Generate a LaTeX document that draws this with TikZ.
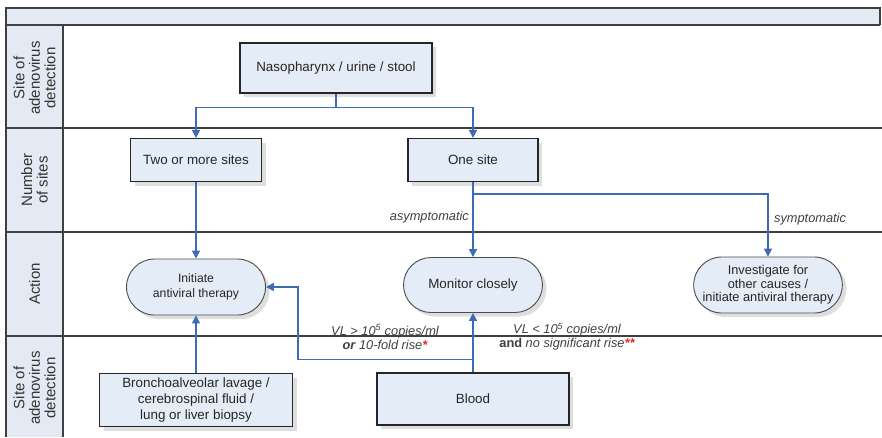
\documentclass[tikz,border=0pt]{standalone}
\usepackage{fontspec}
\setmainfont{Liberation Sans}
\usetikzlibrary{arrows.meta, positioning, shapes.misc, shadows}

\definecolor{boxfill}{HTML}{E4ECF7}
\definecolor{lanefill}{HTML}{E4EAF3}
\definecolor{flowblue}{HTML}{3B6CB4}
\definecolor{starred}{HTML}{E02828}

\begin{document}
\begin{tikzpicture}[
    x=1pt, y=-1pt,
    font=\fontsize{13.4}{15}\selectfont,
    site/.style={draw=black!85, line width=1.2pt, fill=boxfill, align=center, text=black!85,
        drop shadow={shadow xshift=4pt, shadow yshift=-4pt, fill=black!13, draw=none, opacity=1}},
    act/.style={draw=black!70, line width=0.9pt, fill=boxfill, rounded rectangle, align=center, text=black!85,
        minimum width=141pt, minimum height=56pt, inner xsep=1pt,
        drop shadow={shadow xshift=4pt, shadow yshift=-4pt, fill=black!13, draw=none, opacity=1}},
    wire/.style={flowblue, line width=1.6pt, -{Triangle[length=8pt, width=8pt]}},
    lane/.style={draw=black!75, line width=1.4pt},
    lanelbl/.style={rotate=90, align=center, font=\fontsize{15}{15.5}\selectfont, text=black!80},
    note/.style={font=\fontsize{12.8}{14}\selectfont\itshape, text=black!75, align=center}
]
\useasboundingbox (0,0) rectangle (882,437);

% swimlane frame
\fill[lanefill] (6,8) rectangle (880,25);
\fill[lanefill] (6,25) rectangle (63,437);
\draw[lane] (6,437) -- (6,8) -- (880,8) -- (880,25);
\draw[lane] (6,25) -- (880,25);
\draw[lane] (6,128) -- (882,128);
\draw[lane] (6,232) -- (882,232);
\draw[lane] (6,336) -- (882,336);
\draw[lane] (63,25) -- (63,437);

\node[lanelbl] (lanesite) at (34.5,78) {Site of\\adenovirus\\detection};
\node[lanelbl] (lanenum) at (34.5,180) {Number\\of sites};
\node[lanelbl] (laneact) at (34.5,284) {Action};
\node[lanelbl] (lanesample) at (34.5,388) {Site of\\adenovirus\\detection};

% nodes
\node[site, minimum width=192pt, minimum height=50pt] (naso) at (336,68) {Nasopharynx / urine / stool};
\node[site, minimum width=131pt, minimum height=43pt] (multi) at (196,160) {Two or more sites};
\node[site, minimum width=130pt, minimum height=43pt] (one) at (473,160) {One site};
\node[act, font=\fontsize{12.2}{15}\selectfont] (init) at (196,287) {Initiate\\antiviral therapy};
\node[act, minimum height=55pt] (monitor) at (473,285) {Monitor closely};
\node[act, minimum height=56pt, font=\fontsize{12.8}{13.5}\selectfont] (invest) at (768,285) {Investigate for\\other causes /\\initiate antiviral therapy};
\node[site, minimum width=193pt, minimum height=53pt, font=\fontsize{13.4}{16}\selectfont] (bal) at (196,400) {Bronchoalveolar lavage /\\cerebrospinal fluid /\\lung or liver biopsy};
\node[site, minimum width=192pt, minimum height=52pt] (blood) at (473,399) {Blood};

% connectors
\draw[wire] (naso.south) -- ++(0,14) -| (multi.north);
\draw[wire] (naso.south) -- ++(0,14) -| (one.north);
\draw[wire] (multi) -- (init);
\draw[wire] (bal) -- (init);
\draw[wire] (one) -- node[note, left, pos=0.47] {asymptomatic} (monitor);
\draw[wire] ([yshift=-12pt]one.south) -| node[note, right, pos=0.70, xshift=2pt] {symptomatic} (invest.north);
\draw[wire] (blood) -- (monitor);
\draw[wire] ([yshift=13pt]blood.north) -| ([xshift=32pt]init.east) -- (init.east);

% thresholds
\node[note] (high) at (385,337) {VL > 10\textsuperscript{5} copies/ml\\\textbf{or} 10-fold rise\textcolor{starred}{\textbf{*}}};
\node[note] (low) at (567,337) {VL < 10\textsuperscript{5} copies/ml\\\textbf{\upshape and} no significant rise\textcolor{starred}{\textbf{**}}};

\end{tikzpicture}
\end{document}
